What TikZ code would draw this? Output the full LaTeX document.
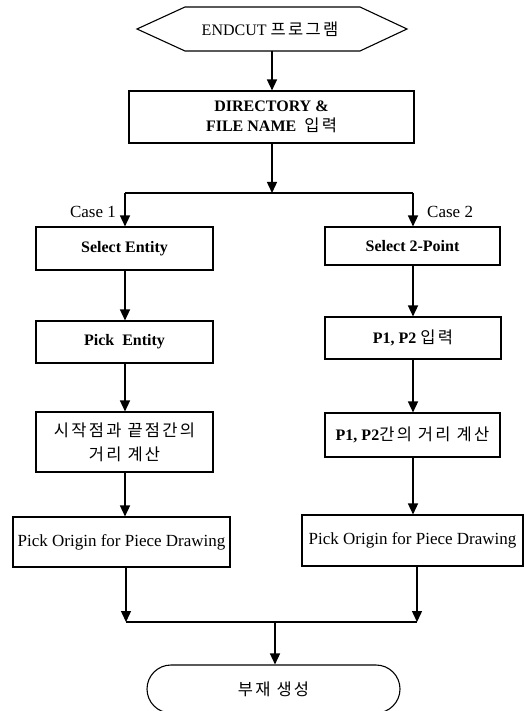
\documentclass[tikz,border=0pt]{standalone}
\usepackage{fontspec}
\setmainfont{Liberation Serif}
\newfontfamily\kr[LetterSpace=14]{Noto Sans CJK KR}
\usetikzlibrary{arrows.meta,shapes.misc}
\newcommand\K[1]{{\fontsize{16.5}{20}\selectfont\mdseries\kr #1}}
\begin{document}
\begin{tikzpicture}[x=1pt,y=-1pt,
  box/.style={draw,line width=1.1pt,inner sep=0pt,align=center,font=\fontsize{16}{20}\selectfont\bfseries},
  arr/.style={line width=1.4pt,-{Triangle[length=11pt,width=10pt]}},
  ln/.style={line width=1.4pt},
  lbl/.style={font=\fontsize{17}{20}\selectfont,inner sep=0pt}]
\useasboundingbox (0,0) rectangle (526,711);
% start hexagon
\draw[line width=1.1pt] (137,29) -- (185,7) -- (360,7) -- (407,29) -- (360,51) -- (185,51) -- cycle;
\node[font=\fontsize{16}{18}\selectfont] (start) at (270,29) {ENDCUT \K{프로그램}};
\coordinate (startS) at (272,51);
% directory
\node[box,minimum width=285pt,minimum height=52pt] (dir) at (271.5,117) {DIRECTORY \&\\FILE NAME\ \ \K{입력}};
\draw[arr] (startS) -- (dir.north -| startS);
% split
\coordinate (j1) at (272,193);
\coordinate (jL) at (125,193);
\coordinate (jR) at (413,193);
\draw[arr] (dir.south -| j1) -- (j1);
\draw[ln] (jL) -- (jR);
% left column
\node[box,minimum width=177pt,minimum height=43pt] (se) at (124.5,248.5) {Select Entity};
\node[box,minimum width=177pt,minimum height=42pt] (pe) at (124.5,342) {Pick\ \ Entity};
\node[box,minimum width=177pt,minimum height=60pt,font=\fontsize{16}{24}\selectfont] (d1) at (124.5,442) {\K{시작점과 끝점간의}\\\K{거리 계산}};
\node[box,minimum width=217pt,minimum height=50pt,font=\fontsize{17}{20}\selectfont] (po1) at (121.5,542) {Pick Origin for Piece Drawing};
% right column
\node[box,minimum width=175pt,minimum height=38pt] (s2) at (412.5,246) {Select 2-Point};
\node[box,minimum width=176pt,minimum height=42pt] (p12) at (413,338) {P1, P2 \K{입력}};
\node[box,minimum width=175pt,minimum height=44pt] (d2) at (412.5,435) {P1, P2\K{간의 거리 계산}};
\node[box,minimum width=221pt,minimum height=51pt,font=\fontsize{17}{20}\selectfont] (po2) at (412.5,540.5) {Pick Origin for Piece Drawing};
% labels
\node[lbl,anchor=east] (c1) at (116,212) {Case 1};
\node[lbl,anchor=west] (c2) at (427,212) {Case 2};
% arrows
\draw[arr] (jL) -- (se.north -| jL);
\draw[arr] (jR) -- (s2.north -| jR);
\draw[arr] (se.south -| jL) -- (pe.north -| jL);
\draw[arr] (pe.south -| jL) -- (d1.north -| jL);
\draw[arr] (d1.south -| jL) -- (po1.north -| jL);
\draw[arr] (s2.south -| jR) -- (p12.north -| jR);
\draw[arr] (p12.south -| jR) -- (d2.north -| jR);
\draw[arr] (d2.south -| jR) -- (po2.north -| jR);
% merge
\coordinate (mL) at (126,622);
\coordinate (mR) at (417,622);
\coordinate (mC) at (275,622);
\draw[arr] (po1.south -| mL) -- (mL);
\draw[arr] (po2.south -| mR) -- (mR);
\draw[ln] (mL) -- (mR);
\node[rounded rectangle,draw,line width=1.1pt,minimum width=253pt,minimum height=48pt,inner sep=0pt] (end) at (273.5,689) {\K{부재 생성}};
\draw[arr] (mC) -- (end.north -| mC);
\end{tikzpicture}
\end{document}
